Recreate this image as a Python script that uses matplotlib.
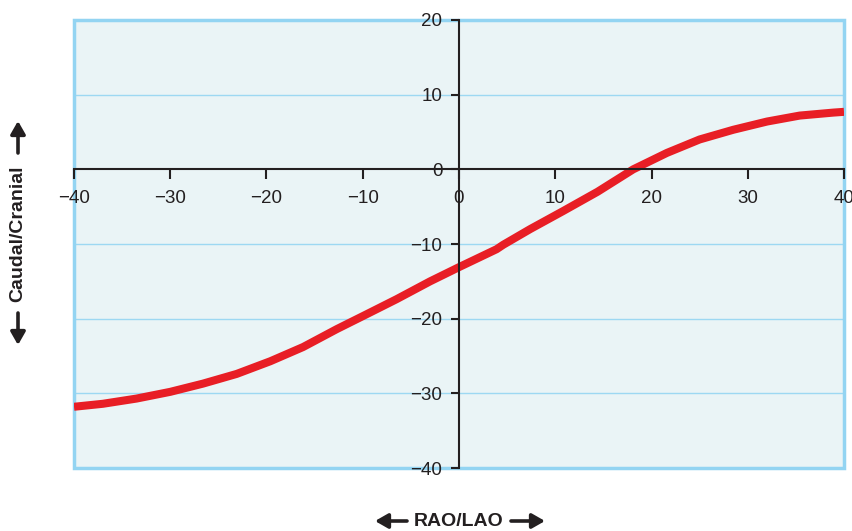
import matplotlib
matplotlib.use("Agg")
import matplotlib.pyplot as plt
from matplotlib.patches import Rectangle, FancyArrowPatch

plt.rcParams['font.family'] = ['Liberation Sans', 'DejaVu Sans']

# RAO/LAO angle (deg) vs caudal/cranial angle (deg)
rao_lao = [-40.0, -37.0, -33.5, -30.0, -26.6, -23.1, -19.6, -16.2, -12.7, -9.9, -6.5,
           -3.0, 0.0, 3.9, 4.6, 7.4, 10.8, 14.4, 18.1, 21.6, 25.0, 28.5, 32.0, 35.4,
           38.9, 40.0]
caud_cran = [-31.8, -31.4, -30.7, -29.8, -28.7, -27.4, -25.7, -23.8, -21.4, -19.6, -17.4,
             -15.0, -13.1, -10.7, -10.1, -8.0, -5.6, -3.0, 0.0, 2.2, 4.0, 5.3, 6.4, 7.2,
             7.6, 7.7]

x_ticks = [-40, -30, -20, -10, 0, 10, 20, 30, 40]
y_ticks = [-40, -30, -20, -10, 0, 10, 20]
grid_levels = [10, -10, -20, -30]

INK = '#231f20'
W, H = 853, 531

fig = plt.figure(figsize=(W / 100, H / 100), dpi=100)
ax = fig.add_axes([74 / W, 63 / H, 770 / W, 448 / H])
ax.set_facecolor('#eaf4f6')
ax.set_xlim(-40, 40)
ax.set_ylim(-40, 20)

for g in grid_levels:
    ax.axhline(g, color='#9dd8f2', lw=1.0, zorder=0.8)

# outer frame
ax.add_patch(Rectangle((0, 0), 1, 1, transform=ax.transAxes, fill=False,
                       edgecolor='#93d4f2', lw=2.5, zorder=0.9, clip_on=False))

ax.plot(rao_lao, caud_cran, color='#e81e25', lw=5.8, solid_capstyle='butt',
        solid_joinstyle='round', zorder=3)

ax.spines['top'].set_visible(False)
ax.spines['right'].set_visible(False)
for s in ('left', 'bottom'):
    ax.spines[s].set_position(('data', 0))
    ax.spines[s].set_color(INK)
    ax.spines[s].set_linewidth(1.5)
    ax.spines[s].set_zorder(5)
ax.xaxis.set_zorder(5)
ax.yaxis.set_zorder(5)

ax.set_xticks(x_ticks)
ax.set_yticks(y_ticks)
ax.set_xticklabels([f'{v}'.replace('-', '\u2212') for v in x_ticks])
ax.set_yticklabels([f'{v}'.replace('-', '\u2212') for v in y_ticks])
ax.tick_params(axis='x', direction='out', length=7, width=1.5, color=INK,
               pad=8, labelsize=13.5, labelcolor=INK)
ax.tick_params(axis='y', direction='out', length=6, width=1.5, color=INK,
               pad=6, labelsize=13.5, labelcolor=INK)


# axis titles with direction arrows
def fx(px):
    return px / W


def fy(py):
    return 1 - py / H


def add_arrow(start, end):
    fig.add_artist(FancyArrowPatch(
        (fx(start[0]), fy(start[1])), (fx(end[0]), fy(end[1])),
        transform=fig.transFigure, arrowstyle='-|>,head_length=0.7,head_width=0.4',
        mutation_scale=11, lw=2.6, color=INK, shrinkA=0, shrinkB=0))


fig.text(fx(459), fy(521), 'RAO/LAO', ha='center', va='center',
         fontsize=14, fontweight='bold', color=INK)
add_arrow((407, 521), (375, 521))
add_arrow((511, 521), (545, 521))

fig.text(fx(18), fy(234), 'Caudal/Cranial', ha='center', va='center', rotation=90,
         fontsize=14, fontweight='bold', color=INK)
add_arrow((18, 153), (18, 121))
add_arrow((18, 313), (18, 345))

fig.savefig('out.png', dpi=100)
